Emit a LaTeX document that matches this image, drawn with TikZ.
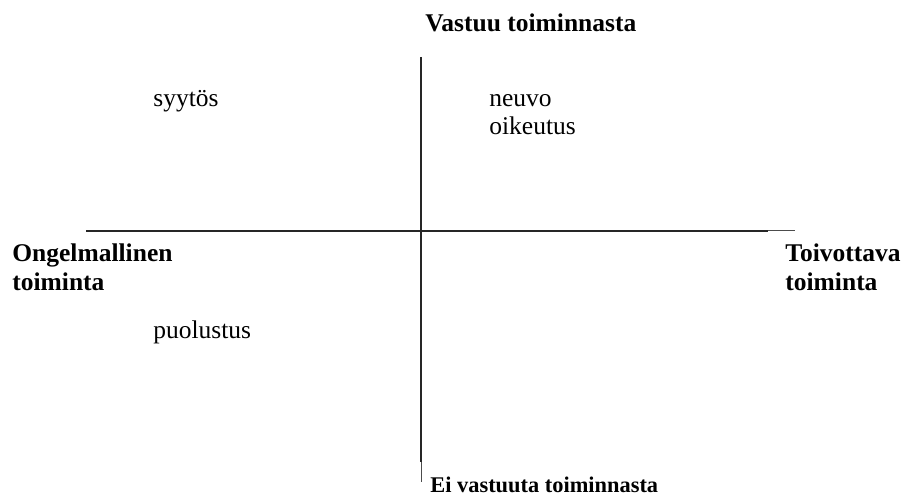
\documentclass[tikz,border=0pt]{standalone}
\usepackage{fontspec}
\setmainfont{Liberation Serif}
\usepackage{tikz}
\usetikzlibrary{positioning, calc}

\tikzset{
    axislabel/.style={anchor=base west, inner sep=0pt, font=\fontsize{12.75}{14}\selectfont\bfseries, align=left},
    word/.style={anchor=base west, inner sep=0pt, font=\fontsize{12.75}{14}\selectfont},
    axis/.style={line width=1pt, black!85},
    axistail/.style={line width=0.5pt, black!70}
}

\begin{document}
\begin{tikzpicture}[x=0.5pt, y=-0.5pt]
        \useasboundingbox (0,0) rectangle (904,497);
        % axes
        \coordinate (top) at (421,57);
        \coordinate (bottom) at (421,462);
        \coordinate (bottomend) at (421,482);
        \coordinate (left) at (86,231);
        \coordinate (right) at (768,231);
        \coordinate (rightend) at (795,231);
        \draw[axis] (top) -- (bottom);
        \draw[axistail] (bottom) -- (bottomend);
        \draw[axis] (left) -- (right);
        \draw[axistail] (right) -- (rightend);
        % axis labels (two-line ones sit on the baseline of their last line)
        \node[axislabel] (vastuu) at (425,32) {Vastuu toiminnasta};
        \node[axislabel, font=\fontsize{11.2}{13}\selectfont\bfseries] (eivastuu) at (430,492) {Ei vastuuta toiminnasta};
        \node[axislabel] (ongelma) at (12,290) {Ongelmallinen\\[0pt]toiminta};
        \node[axislabel] (toivottava) at (785,290) {Toivottava\\[0pt]toiminta};
        % quadrant words
        \node[word] (syytos) at (153,107) {syytös};
        \node[word] (neuvo) at (489,107) {neuvo};
        \node[word] (oikeutus) at (489,135) {oikeutus};
        \node[word] (puolustus) at (153,338) {puolustus};
    \end{tikzpicture}
\end{document}
